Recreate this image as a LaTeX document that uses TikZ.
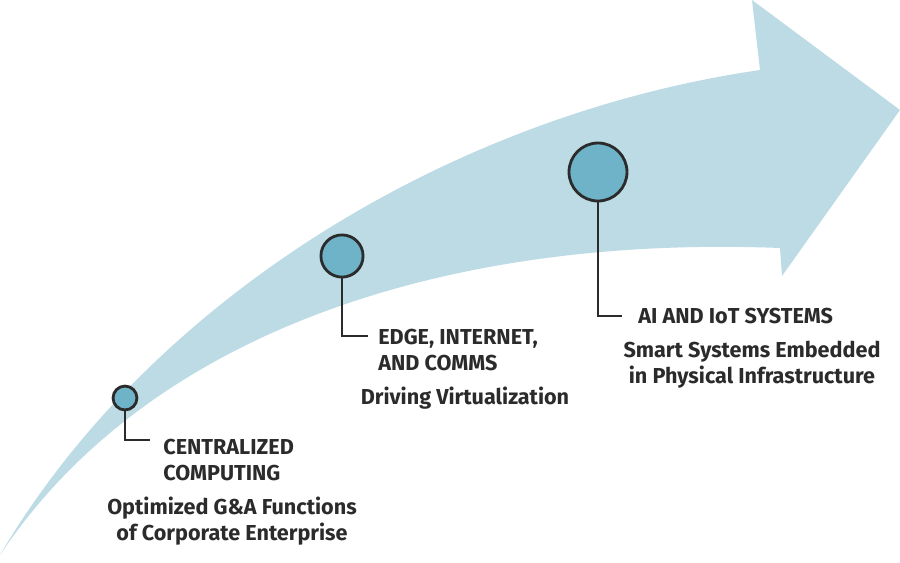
\documentclass[tikz,border=0pt]{standalone}
\usepackage{fontspec}
\setmainfont{Fira Sans}
\usetikzlibrary{positioning}
\definecolor{shaftblue}{HTML}{BCDBE5}
\definecolor{dotblue}{HTML}{6FB3C8}
\definecolor{inkgray}{HTML}{2B2B2B}
\tikzset{
  stage/.style={circle,draw=inkgray,line width=1.6pt,fill=dotblue,inner sep=0pt},
  leader/.style={draw=inkgray,line width=1.6pt},
  title/.style={inkgray,font=\fontsize{12.3}{14.6}\selectfont\bfseries,align=left,inner sep=0pt,anchor=west},
  sub/.style={inkgray,font=\fontsize{12.3}{14.8}\selectfont\bfseries,align=center,inner sep=0pt}
}
\begin{document}
\begin{tikzpicture}[x=0.02cm,y=-0.02cm]
  \useasboundingbox (0,0) rectangle (900,562);
  % arrow
  \fill [shaftblue]
    (0,555) .. controls (150,300) and (450,115) .. (760,70)
    -- (752,0) -- (900,110) -- (782,276) -- (780,248)
    .. controls (450,235) and (150,330) .. (0,555) -- cycle;
  % stages
  \node [stage,minimum size=13.6pt] (c1) at (125,398) {};
  \node [stage,minimum size=24pt] (c2) at (342,256) {};
  \node [stage,minimum size=33pt] (c3) at (598,172) {};
  \coordinate (l1) at (150,440);
  \coordinate (l2) at (368,336);
  \coordinate (l3) at (622,316);
  \draw [leader] (c1.south) |- (l1);
  \draw [leader] (c2.south) |- (l2);
  \draw [leader] (c3.south) |- (l3);
  % labels
  \node [title] (t1) at (163,460) {CENTRALIZED\\COMPUTING};
  \node [sub] (s1) at (232,521) {Optimized G\&A Functions\\of Corporate Enterprise};
  \node [title] (t2) at (378,350) {EDGE, INTERNET,\\AND COMMS};
  \node [sub] (s2) at (465,398) {Driving Virtualization};
  \node [title] (t3) at (638,316) {AI AND IoT SYSTEMS};
  \node [sub] (s3) at (752,365) {Smart Systems Embedded\\in Physical Infrastructure};
\end{tikzpicture}
\end{document}
